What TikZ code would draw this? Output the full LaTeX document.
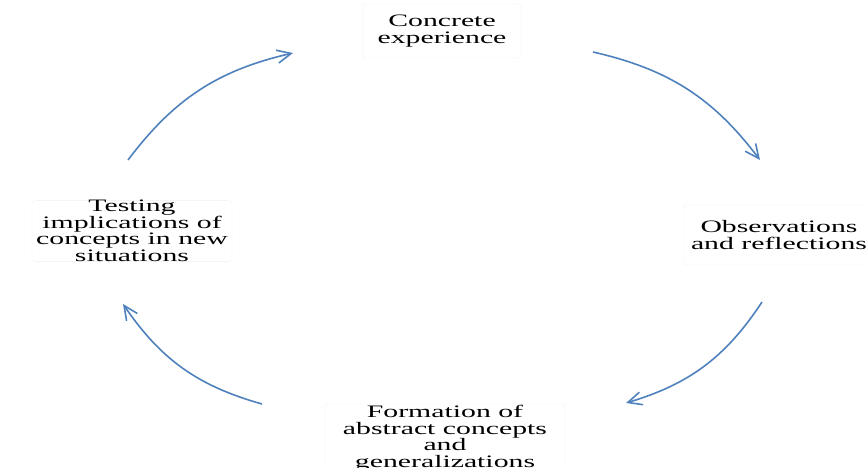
\documentclass[tikz,border=0pt]{standalone}
\usepackage{fontspec}
\usepackage{tikz}
\usepackage{xcolor}
\usetikzlibrary{
    arrows.meta,
    positioning
}
\newfontfamily\cyclefont[FakeStretch=1.7]{Liberation Serif}
\definecolor{cycleblue}{RGB}{79,129,189}
\tikzset{
    stage/.style={draw=black!6, rounded corners=3pt, align=center, inner sep=0pt,
        font=\cyclefont\fontsize{17.5}{16.5}\selectfont},
    cyc/.style={-{Straight Barb[length=14pt, width=13pt]}, cycleblue, line width=1.6pt}
}

\begin{document}
\begin{tikzpicture}[x=1pt, y=-1pt]
                                \useasboundingbox (0,0) rectangle (867,468);
                                \node[stage, minimum width=159pt, minimum height=54pt] (t) at (442, 31) {Concrete\\experience};
                                \node[stage, minimum width=190pt, minimum height=60pt] (r) at (779, 235) {Observations\\and reflections};
                                \node[stage, minimum width=240pt, minimum height=68pt] (b) at (445, 438) {Formation of\\abstract concepts\\and\\generalizations};
                                \node[stage, minimum width=200pt, minimum height=60pt] (l) at (132, 231) {Testing\\implications of\\concepts in new\\situations};
                                \coordinate (t1) at (593, 52);
                                \coordinate (r1) at (760, 160);
                                \coordinate (r2) at (762, 302);
                                \coordinate (b1) at (626, 403);
                                \coordinate (b2) at (262, 404);
                                \coordinate (l1) at (123, 304);
                                \coordinate (l2) at (128, 160);
                                \coordinate (t2) at (293, 53);
                                \draw
                                (t1) edge[cyc, bend left=20] (r1)
                                (r2) edge[cyc, bend left=20] (b1)
                                (b2) edge[cyc, bend left=20] (l1)
                                (l2) edge[cyc, bend left=20] (t2);
                            \end{tikzpicture}
\end{document}
